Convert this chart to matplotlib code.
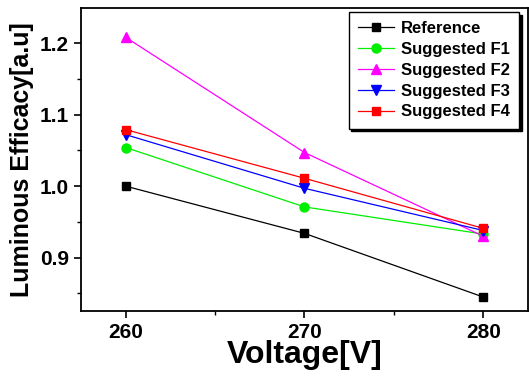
import matplotlib
matplotlib.use("Agg")
import matplotlib.pyplot as plt
from matplotlib.ticker import MultipleLocator

plt.rcParams['font.family'] = ['Liberation Sans', 'DejaVu Sans']
plt.rcParams['font.weight'] = 'bold'

voltage = [260, 270, 280]
reference = [1.000, 0.934, 0.845]
f1 = [1.054, 0.971, 0.933]
f2 = [1.208, 1.047, 0.930]
f3 = [1.072, 0.997, 0.938]
f4 = [1.079, 1.011, 0.941]
labels = ['Reference', 'Suggested F1', 'Suggested F2', 'Suggested F3', 'Suggested F4']

fig = plt.figure(figsize=(5.29, 3.76), dpi=100)
ax = fig.add_axes([81/529, 65/376, 447/529, 303/376])

series = [reference, f1, f2, f3, f4]
colors = ['black', '#00ee00', '#ff00ff', '#0000ff', '#ff0000']
markers = ['s', 'o', '^', 'v', 's']
msizes = [6, 6.5, 7, 7, 6]
for ys, c, m, ms, lab in zip(series, colors, markers, msizes, labels):
    ax.plot(voltage, ys, color=c, marker=m, markersize=ms, linewidth=0.9,
            markeredgecolor=c, label=lab)

ax.set_xlim(257.5, 282.5)
ax.set_ylim(0.8255, 1.249)
ax.xaxis.set_major_locator(MultipleLocator(10))
ax.xaxis.set_minor_locator(MultipleLocator(5))
ax.yaxis.set_major_locator(MultipleLocator(0.1))
ax.yaxis.set_minor_locator(MultipleLocator(0.05))
ax.yaxis.set_major_formatter(matplotlib.ticker.FormatStrFormatter('%.1f'))
ax.tick_params(which='major', direction='out', length=5, width=1.2, labelsize=15)
ax.tick_params(which='minor', direction='out', length=3, width=1.0)
for s in ax.spines.values():
    s.set_linewidth(1.3)

ax.set_xlabel('Voltage[V]', fontsize=23, fontweight='bold', labelpad=-1)
ax.set_ylabel('Luminous Efficacy[a.u]', fontsize=18, fontweight='bold', labelpad=4)

leg = ax.legend(loc='upper right', bbox_to_anchor=(0.980, 0.987), fontsize=12,
                fancybox=False, edgecolor='black', framealpha=1,
                shadow={'color': 'black', 'alpha': 1, 'ox': 2, 'oy': -2},
                handlelength=2.2, handletextpad=0.4, labelspacing=0.35,
                borderpad=0.55, borderaxespad=0, numpoints=1)
leg.get_frame().set_linewidth(1.0)

fig.savefig('out.png', dpi=100)
